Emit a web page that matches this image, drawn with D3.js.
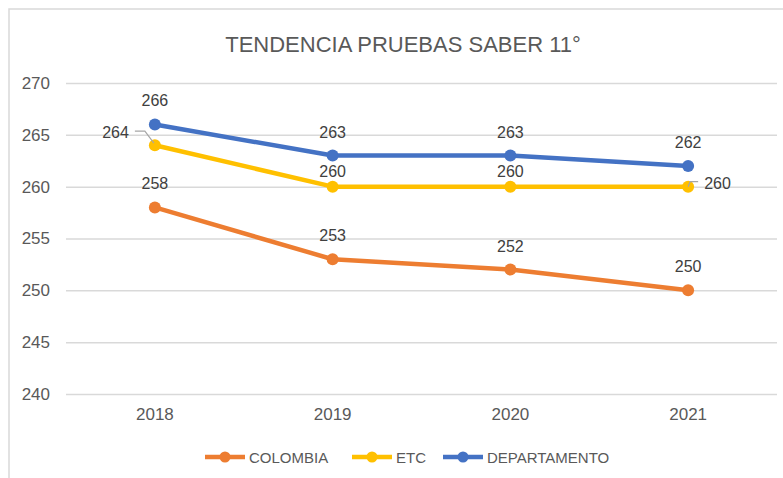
<!DOCTYPE html>
<html>
<head>
<meta charset="utf-8">
<script src="https://cdn.jsdelivr.net/npm/d3@7"></script>
<style>
  body { margin: 0; background: #fff; }
  text { font-family: "Liberation Sans", Arial, sans-serif; }
</style>
</head>
<body>
<div id="chart"></div>
<script>
const years = ["2018", "2019", "2020", "2021"];
const colombia = [258, 253, 252, 250];
const etc = [264, 260, 260, 260];
const departamento = [266, 263, 263, 262];
const yTicks = [240, 245, 250, 255, 260, 265, 270];

const series = [
  { name: "COLOMBIA", values: colombia, color: "#ED7D31" },
  { name: "ETC", values: etc, color: "#FFC000" },
  { name: "DEPARTAMENTO", values: departamento, color: "#4472C4" }
];

const W = 783, H = 478;
const svg = d3.select("#chart").append("svg")
  .attr("width", W).attr("height", H);

// borde del area del grafico
svg.append("rect")
  .attr("x", 9).attr("y", 9)
  .attr("width", 800).attr("height", 500)
  .attr("fill", "#fff")
  .attr("stroke", "#d9d9d9").attr("stroke-width", 1.5);

svg.append("text")
  .attr("x", 403).attr("y", 52)
  .attr("text-anchor", "middle")
  .style("font-size", "22px")
  .attr("fill", "#595959")
  .text("TENDENCIA PRUEBAS SABER 11°");

const x = d3.scaleBand().domain(years).range([66, 777]);
const y = d3.scaleLinear().domain([240, 270]).range([394, 83]);
const cx = (d, i) => x(years[i]) + x.bandwidth() / 2;

// lineas de cuadricula + etiquetas eje y
const yAxis = svg.append("g")
  .attr("transform", "translate(66,0)")
  .call(d3.axisLeft(y).tickValues(yTicks).tickSize(-711).tickPadding(16));
yAxis.select(".domain").remove();
yAxis.selectAll(".tick line").attr("stroke", "#d9d9d9").attr("stroke-width", 1.5);
yAxis.selectAll(".tick text")
  .attr("fill", "#595959")
  .style("font-size", "17px")
  .style("font-family", "Liberation Sans, Arial, sans-serif");

const xAxis = svg.append("g")
  .attr("transform", "translate(0,394)")
  .call(d3.axisBottom(x).tickSize(0).tickPadding(14));
xAxis.select(".domain").remove();
xAxis.selectAll(".tick text")
  .attr("fill", "#595959")
  .style("font-size", "17px")
  .style("font-family", "Liberation Sans, Arial, sans-serif");

const line = d3.line().x(cx).y(d => y(d));

series.forEach(s => {
  svg.append("path")
    .datum(s.values)
    .attr("d", line)
    .attr("fill", "none")
    .attr("stroke", s.color)
    .attr("stroke-width", 4.5)
    .attr("stroke-linejoin", "round");
  svg.selectAll(null)
    .data(s.values)
    .enter()
    .append("circle")
    .attr("cx", cx)
    .attr("cy", d => y(d))
    .attr("r", 6)
    .attr("fill", s.color);
});

// etiquetas de datos
series.forEach(s => {
  s.values.forEach((v, i) => {
    const px = cx(v, i), py = y(v);
    let tx = px, ty = py - 18, anchor = "middle";
    if (s.name === "ETC") {
      if (i === 0) {
        tx = px - 26; ty = py - 7; anchor = "end";
        svg.append("polyline")
          .attr("points", [[px - 20, py - 14], [px - 10, py - 14], [px - 1, py - 2]].join(" "))
          .attr("fill", "none").attr("stroke", "#a6a6a6").attr("stroke-width", 1.2);
      } else if (i === years.length - 1) {
        tx = px + 16; ty = py + 2; anchor = "start";
        svg.append("polyline")
          .attr("points", [[px, py], [px + 2, py - 5], [px + 10, py - 5]].join(" "))
          .attr("fill", "none").attr("stroke", "#a6a6a6").attr("stroke-width", 1.2);
      } else {
        ty = py - 10;
      }
    }
    svg.append("text")
      .attr("x", tx).attr("y", ty)
      .attr("text-anchor", anchor)
      .attr("fill", "#404040")
      .style("font-size", "16px")
      .text(v);
  });
});

// leyenda
const legendX = [205, 352, 443];
const legend = svg.append("g");
series.forEach((s, i) => {
  const g = legend.append("g").attr("transform", "translate(" + legendX[i] + ",457)");
  g.append("line").attr("x1", 0).attr("x2", 40).attr("y1", 0).attr("y2", 0)
    .attr("stroke", s.color).attr("stroke-width", 4.5);
  g.append("circle").attr("cx", 20).attr("cy", 0).attr("r", 5.5).attr("fill", s.color);
  g.append("text").attr("x", 44).attr("y", 5.5)
    .attr("fill", "#595959").style("font-size", "15px")
    .text(s.name);
});
</script>
</body>
</html>
